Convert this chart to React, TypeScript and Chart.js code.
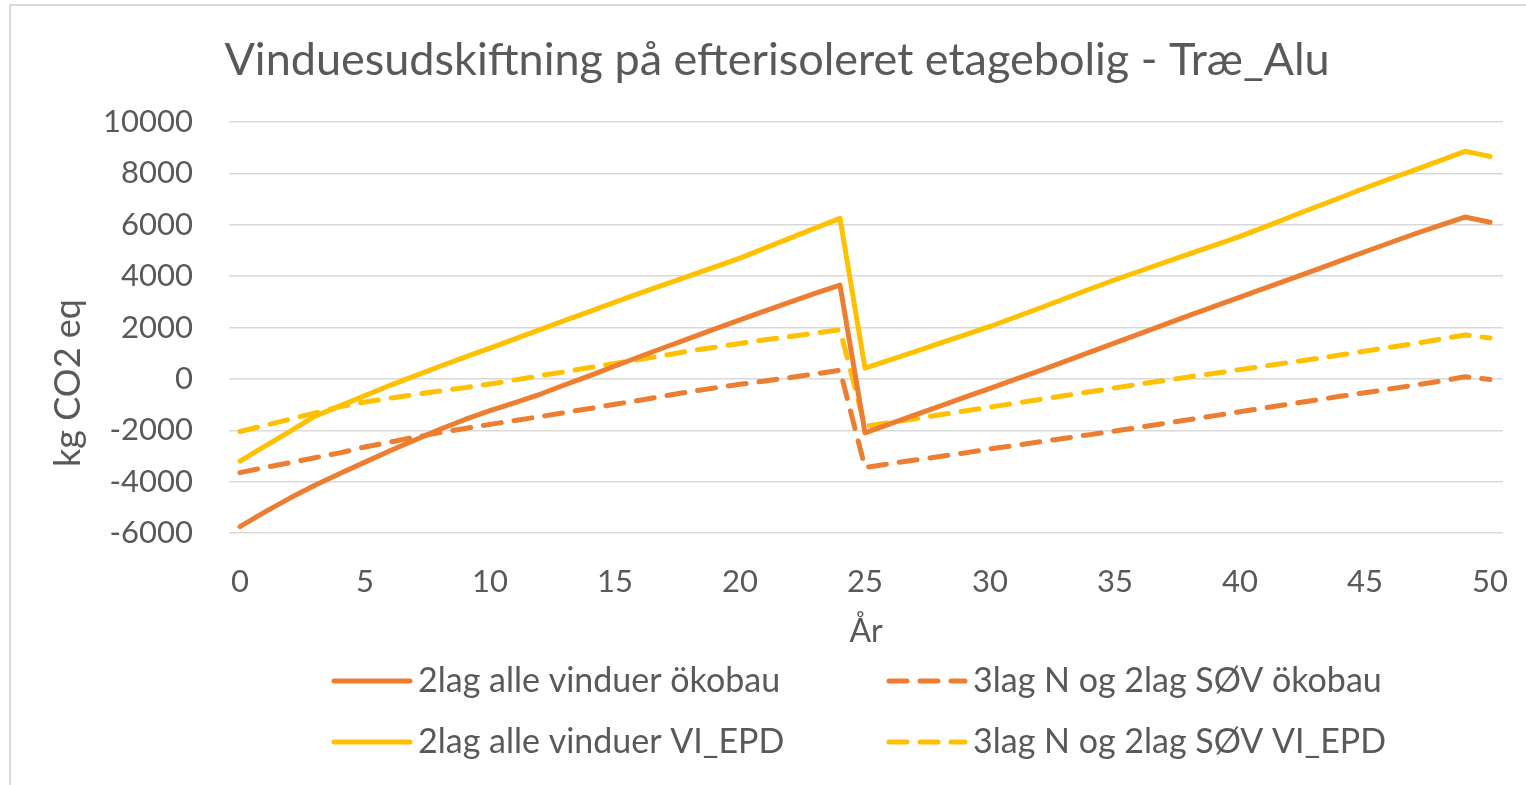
import { useEffect, useRef } from 'react';
import { Chart, registerables } from 'chart.js';

Chart.register(...registerables);

const TITLE = 'Vinduesudskiftning på efterisoleret etagebolig - Træ_Alu';
const X_TITLE = 'År';
const Y_TITLE = 'kg CO2 eq';

const YEARS = [
  0, 1, 2, 3, 4, 5, 6, 7, 8, 9, 10, 11, 12, 13, 14, 15, 16, 17, 18, 19, 20, 21, 22, 23, 24, 25,
  26, 27, 28, 29, 30, 31, 32, 33, 34, 35, 36, 37, 38, 39, 40, 41, 42, 43, 44, 45, 46, 47, 48, 49, 50,
];

const X_TICKS = [0, 5, 10, 15, 20, 25, 30, 35, 40, 45, 50];
const Y_TICKS = [-6000, -4000, -2000, 0, 2000, 4000, 6000, 8000, 10000];

const LABELS = [
  '2lag alle vinduer ökobau',
  '3lag N og 2lag SØV ökobau',
  '2lag alle vinduer VI_EPD',
  '3lag N og 2lag SØV VI_EPD',
];

// 2lag alle vinduer ökobau
const S_2LAG_OKOBAU = [
  -5750, -5180, -4640, -4140, -3680, -3240, -2800, -2380, -1960, -1580, -1240, -920, -600, -230, 130,
  500, 870, 1230, 1590, 1950, 2300, 2650, 2990, 3330, 3650, -2100, -1750, -1400, -1060, -710, -370,
  -20, 320, 680, 1040, 1400, 1760, 2120, 2480, 2830, 3180, 3530, 3880, 4230, 4590, 4950, 5300, 5650,
  5980, 6300, 6100,
];

// 3lag N og 2lag SØV ökobau
const S_3LAG_OKOBAU = [
  -3650, -3450, -3260, -3070, -2880, -2650, -2460, -2270, -2090, -1930, -1770, -1620, -1470, -1310,
  -1150, -990, -830, -660, -500, -350, -210, -80, 50, 190, 340, -3450, -3300, -3160, -3020, -2880,
  -2730, -2590, -2450, -2310, -2170, -2030, -1880, -1730, -1580, -1430, -1280, -1130, -980, -830,
  -680, -540, -390, -240, -90, 80, -20,
];

// 2lag alle vinduer VI_EPD
const S_2LAG_EPD = [
  -3200, -2620, -2040, -1450, -1050, -650, -250, 120, 490, 850, 1200, 1560, 1920, 2280, 2630, 2990,
  3340, 3680, 4020, 4360, 4700, 5090, 5480, 5870, 6250, 420, 740, 1060, 1390, 1710, 2040, 2400, 2760,
  3130, 3500, 3860, 4200, 4540, 4880, 5210, 5550, 5920, 6300, 6680, 7050, 7430, 7790, 8140, 8500,
  8860, 8660,
];

// 3lag N og 2lag SØV VI_EPD
const S_3LAG_EPD = [
  -2050, -1810, -1570, -1330, -1080, -900, -750, -610, -470, -340, -200, -40, 120, 280, 440, 600, 760,
  920, 1090, 1230, 1380, 1520, 1650, 1780, 1910, -1850, -1700, -1550, -1400, -1250, -1100, -950, -800,
  -650, -500, -350, -200, -60, 80, 220, 360, 500, 640, 780, 930, 1080, 1230, 1380, 1540, 1710, 1590,
];

const ORANGE = '#ED7D31';
const YELLOW = '#FFC000';
const TEXT = '#595959';
const GRID = '#D9D9D9';
const FONT = 'Lato, "Open Sans", sans-serif';

const toPoints = (vals: number[]) => vals.map((v, i) => ({ x: YEARS[i], y: v }));

const legendPlugin = {
  id: 'gridLegend',
  afterDraw(chart: any) {
    const ctx = chart.ctx as CanvasRenderingContext2D;
    const area = chart.chartArea;
    const cols = [area.left + 103, area.left + 658];
    const rows = [area.bottom + 148, area.bottom + 209];
    const lineLen = 80;
    ctx.save();
    chart.data.datasets.forEach((ds: any, i: number) => {
      const x = cols[i % 2];
      const y = rows[Math.floor(i / 2)];
      ctx.beginPath();
      ctx.setLineDash(ds.borderDash || []);
      ctx.lineCap = 'round';
      ctx.lineWidth = ds.borderWidth;
      ctx.strokeStyle = ds.borderColor;
      ctx.moveTo(x + 2, y);
      ctx.lineTo(x + lineLen - 2, y);
      ctx.stroke();
      ctx.setLineDash([]);
      ctx.fillStyle = TEXT;
      ctx.font = `34px ${FONT}`;
      ctx.textBaseline = 'middle';
      ctx.textAlign = 'left';
      ctx.fillText(ds.label, x + lineLen + 6, y);
    });
    // y-axis title, centred a little below the middle of the plot as in the original
    ctx.translate(68, area.top + 261);
    ctx.rotate(-Math.PI / 2);
    ctx.fillStyle = TEXT;
    ctx.font = `36px ${FONT}`;
    ctx.textAlign = 'center';
    ctx.textBaseline = 'middle';
    ctx.fillText(Y_TITLE, 0, 0);
    ctx.restore();
  },
};

export default function App() {
  const ref = useRef<HTMLCanvasElement>(null);

  useEffect(() => {
    if (!ref.current) return;
    const dash = [18, 13];
    const chart = new Chart(ref.current, {
      type: 'line',
      data: {
        datasets: [
          { label: LABELS[0], data: toPoints(S_2LAG_OKOBAU), borderColor: ORANGE, backgroundColor: ORANGE, borderWidth: 5, borderDash: [] },
          { label: LABELS[1], data: toPoints(S_3LAG_OKOBAU), borderColor: ORANGE, backgroundColor: ORANGE, borderWidth: 5, borderDash: dash },
          { label: LABELS[2], data: toPoints(S_2LAG_EPD), borderColor: YELLOW, backgroundColor: YELLOW, borderWidth: 5, borderDash: [] },
          { label: LABELS[3], data: toPoints(S_3LAG_EPD), borderColor: YELLOW, backgroundColor: YELLOW, borderWidth: 5, borderDash: dash },
        ] as any,
      },
      options: {
        responsive: false,
        animation: false,
        events: [],
        elements: {
          point: { radius: 0 },
          line: { tension: 0, borderCapStyle: 'round', borderJoinStyle: 'round' },
        },
        layout: { padding: { left: 51, right: 23, top: 0, bottom: 0 } },
        plugins: {
          legend: { display: false },
          tooltip: { enabled: false },
          title: {
            display: true,
            text: TITLE,
            color: TEXT,
            font: { family: FONT, size: 45, weight: 'normal', lineHeight: 1.2 },
            padding: { top: 33, bottom: 35 },
          },
        },
        scales: {
          x: {
            type: 'linear',
            min: -0.44,
            max: 50.52,
            grid: { display: false },
            border: { display: false },
            ticks: { color: TEXT, font: { family: FONT, size: 31 }, padding: 22, maxRotation: 0, autoSkip: false },
            afterBuildTicks: (s: any) => {
              s.ticks = X_TICKS.map((v) => ({ value: v }));
            },
            afterFit: (s: any) => {
              s.height = 252;
              s.paddingLeft = 0;
              s.paddingRight = 0;
            },
            title: {
              display: true,
              text: X_TITLE,
              color: TEXT,
              font: { family: FONT, size: 32, lineHeight: 1.2 },
              padding: { top: 0, bottom: 134 },
            },
          },
          y: {
            type: 'linear',
            min: -6000,
            max: 10000,
            grid: { color: GRID, lineWidth: 1.5, drawTicks: false },
            border: { display: false },
            ticks: {
              color: TEXT,
              font: { family: FONT, size: 31 },
              padding: 36,
              callback: (v: any) => String(v),
            },
            afterBuildTicks: (s: any) => {
              s.ticks = Y_TICKS.map((v) => ({ value: v }));
            },
            afterFit: (s: any) => {
              s.width = 178;
            },
            title: { display: false },
          },
        },
      } as any,
      plugins: [legendPlugin],
    });
    return () => chart.destroy();
  }, []);

  return (
    <div style={{ position: 'fixed', left: 0, top: 0, width: 1526, height: 785, background: '#fff', overflow: 'hidden' }}>
      <canvas ref={ref} width={1526} height={785} style={{ display: 'block', width: 1526, height: 785 }} />
      <div
        style={{
          position: 'absolute',
          left: 9,
          top: 4,
          width: 1530,
          height: 800,
          borderLeft: `2px solid ${GRID}`,
          borderTop: `2px solid ${GRID}`,
          pointerEvents: 'none',
        }}
      />
    </div>
  );
}
